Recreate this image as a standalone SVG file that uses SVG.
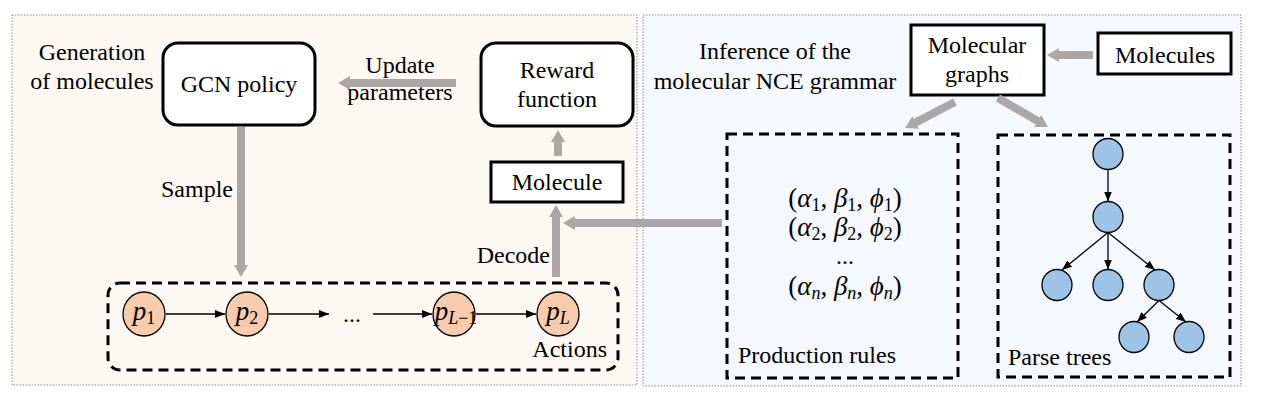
<svg xmlns="http://www.w3.org/2000/svg" width="1265" height="405" viewBox="0 0 1265 405">
<style>
  text { font-family: "Liberation Serif", "DejaVu Serif", serif; font-size: 24px; fill: #000; }
  .mid { text-anchor: middle; }
  .end { text-anchor: end; }
  .panel { stroke: #8c8c8c; stroke-width: 1; stroke-dasharray: 1.5 1.5; }
  .box { fill: #ffffff; stroke: #000; stroke-width: 3; }
  .dash { fill: none; stroke: #000; stroke-width: 3; stroke-dasharray: 10 6; }
  .garrow { stroke: #aba7a6; stroke-width: 8; fill: none; marker-end: url(#gh); }
  .barrow { stroke: #000; stroke-width: 1.3; fill: none; marker-end: url(#bh); }
  .act { fill: #f8cbad; stroke: #000; stroke-width: 1.3; }
  .tn { fill: #9dc3e6; stroke: #000; stroke-width: 1.3; }
  .math { font-size: 27px; }
  .pm { font-size: 27px; }
  .it { font-style: italic; }
  .sub { font-size: 18px; }
</style>
<defs>
  <marker id="gh" viewBox="0 0 12 14" refX="2" refY="7" markerWidth="12" markerHeight="14" markerUnits="userSpaceOnUse" orient="auto">
    <path d="M0,0 L12,7 L0,14 z" fill="#aba7a6"/>
  </marker>
  <marker id="bh" viewBox="0 0 10 8" refX="10" refY="4" markerWidth="10" markerHeight="8" markerUnits="userSpaceOnUse" orient="auto">
    <path d="M0,0 L10,4 L0,8 z" fill="#000"/>
  </marker>
</defs>

<!-- panels -->
<rect id="panel-left" class="panel" x="12" y="15" width="625" height="370" fill="#fcf8f4"/>
<rect id="panel-right" class="panel" x="643" y="15" width="598" height="371" fill="#f5f9fd"/>

<!-- left panel labels -->
<g id="label-generation">
  <text class="mid" x="92" y="60">Generation</text>
  <text class="mid" x="92" y="89">of molecules</text>
</g>

<g id="node-gcn">
  <rect class="box" x="163" y="43" width="152" height="82" rx="15"/>
  <text class="mid" x="239" y="92">GCN policy</text>
</g>

<g id="label-update">
  <text class="mid" x="400" y="73">Update</text>
  <text class="mid" x="400" y="100">parameters</text>
</g>

<g id="node-reward">
  <rect class="box" x="481" y="43" width="152" height="83" rx="15"/>
  <text class="mid" x="557" y="78">Reward</text>
  <text class="mid" x="557" y="107">function</text>
</g>

<g id="node-molecule">
  <rect class="box" x="491" y="162" width="132" height="40"/>
  <text class="mid" x="557" y="190">Molecule</text>
</g>

<g id="label-sample"><text class="end" x="233" y="197">Sample</text></g>
<g id="label-decode"><text class="end" x="550" y="263">Decode</text></g>

<g id="node-actions">
  <rect class="dash" x="108" y="283" width="510" height="87" rx="12"/>
  <text class="end" x="607" y="357">Actions</text>
</g>

<g id="node-p1">
  <ellipse class="act" cx="144" cy="314" rx="21" ry="22"/>
  <text class="mid pm" x="144" y="320"><tspan class="it">p</tspan><tspan class="sub" dy="4">1</tspan></text>
</g>
<g id="node-p2">
  <ellipse class="act" cx="247" cy="314" rx="21" ry="22"/>
  <text class="mid pm" x="247" y="320"><tspan class="it">p</tspan><tspan class="sub" dy="4">2</tspan></text>
</g>
<g id="label-dots"><text class="mid" x="352" y="322">...</text></g>
<g id="node-pL-1">
  <ellipse class="act" cx="454" cy="314" rx="21" ry="22"/>
  <text class="mid pm" x="456" y="320"><tspan class="it">p</tspan><tspan class="sub" dy="4"><tspan class="it">L</tspan>−1</tspan></text>
</g>
<g id="node-pL">
  <ellipse class="act" cx="558" cy="314" rx="21" ry="22"/>
  <text class="mid pm" x="558" y="320"><tspan class="it">p</tspan><tspan class="sub it" dy="4">L</tspan></text>
</g>

<!-- right panel -->
<g id="label-inference">
  <text class="mid" x="775" y="59">Inference of the</text>
  <text class="mid" x="775" y="89">molecular NCE grammar</text>
</g>

<g id="node-graphs">
  <rect class="box" x="911" y="25" width="133" height="70"/>
  <text class="mid" x="977" y="53">Molecular</text>
  <text class="mid" x="977" y="82">graphs</text>
</g>

<g id="node-molecules">
  <rect class="box" x="1098" y="33" width="133" height="41"/>
  <text class="mid" x="1165" y="63">Molecules</text>
</g>

<g id="node-rules">
  <rect class="dash" x="727" y="134" width="231" height="244"/>
  <text class="mid math" x="845" y="207">(<tspan class="it">α</tspan><tspan class="sub" dy="4">1</tspan><tspan dy="-4">, </tspan><tspan class="it">β</tspan><tspan class="sub" dy="4">1</tspan><tspan dy="-4">, </tspan><tspan class="it">ϕ</tspan><tspan class="sub" dy="4">1</tspan><tspan dy="-4">)</tspan></text>
  <text class="mid math" x="845" y="236">(<tspan class="it">α</tspan><tspan class="sub" dy="4">2</tspan><tspan dy="-4">, </tspan><tspan class="it">β</tspan><tspan class="sub" dy="4">2</tspan><tspan dy="-4">, </tspan><tspan class="it">ϕ</tspan><tspan class="sub" dy="4">2</tspan><tspan dy="-4">)</tspan></text>
  <text class="mid" x="845" y="264">...</text>
  <text class="mid math" x="845" y="295">(<tspan class="it">α</tspan><tspan class="sub it" dy="4">n</tspan><tspan dy="-4">, </tspan><tspan class="it">β</tspan><tspan class="sub it" dy="4">n</tspan><tspan dy="-4">, </tspan><tspan class="it">ϕ</tspan><tspan class="sub it" dy="4">n</tspan><tspan dy="-4">)</tspan></text>
  <text x="738" y="363">Production rules</text>
</g>

<g id="node-parse">
  <rect class="dash" x="998" y="135" width="232" height="242"/>
  <text x="1008" y="365">Parse trees</text>
  <ellipse class="tn" cx="1108" cy="154" rx="15" ry="15.5"/>
  <ellipse class="tn" cx="1108" cy="217" rx="15" ry="15.5"/>
  <ellipse class="tn" cx="1057" cy="285" rx="15" ry="15.5"/>
  <ellipse class="tn" cx="1108" cy="285" rx="15" ry="15.5"/>
  <ellipse class="tn" cx="1159" cy="285" rx="15" ry="15.5"/>
  <ellipse class="tn" cx="1134" cy="337" rx="15" ry="15.5"/>
  <ellipse class="tn" cx="1189" cy="337" rx="15" ry="15.5"/>
  <g id="tree-edges">
    <line class="barrow" x1="1108" y1="169.5" x2="1108" y2="201.5"/>
    <line class="barrow" x1="1108" y1="232.5" x2="1062" y2="270"/>
    <line class="barrow" x1="1108" y1="232.5" x2="1108" y2="269.5"/>
    <line class="barrow" x1="1108" y1="232.5" x2="1155" y2="270"/>
    <line class="barrow" x1="1159" y1="300.5" x2="1137" y2="322"/>
    <line class="barrow" x1="1159" y1="300.5" x2="1186" y2="322"/>
  </g>
</g>

<!-- connectors -->
<g id="connectors">
  <line class="garrow" x1="456" y1="83" x2="348" y2="83"/>
  <line class="garrow" x1="558" y1="156" x2="558" y2="140"/>
  <line class="garrow" x1="241" y1="127" x2="241" y2="267"/>
  <line class="garrow" x1="556" y1="277" x2="556" y2="215"/>
  <line class="garrow" x1="722" y1="223" x2="573" y2="223"/>
  <line class="garrow" x1="1093" y1="55" x2="1057" y2="55"/>
  <line class="garrow" x1="955" y1="102" x2="913.9" y2="123.4"/>
  <line class="garrow" x1="998" y1="98" x2="1039.4" y2="122"/>
  <line class="barrow" x1="166" y1="314" x2="225" y2="314"/>
  <line class="barrow" x1="269" y1="314" x2="329" y2="314"/>
  <line class="barrow" x1="373" y1="314" x2="432" y2="314"/>
  <line class="barrow" x1="476" y1="314" x2="536" y2="314"/>
</g>
</svg>
